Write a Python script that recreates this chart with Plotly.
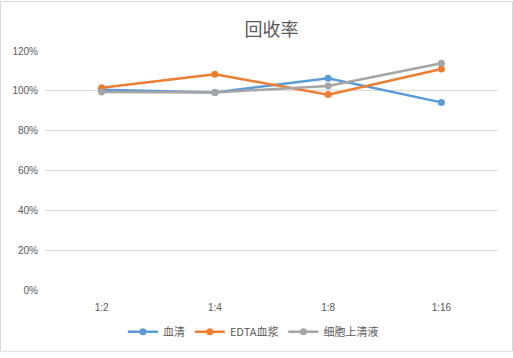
import plotly.graph_objects as go

categories = ["1:2", "1:4", "1:8", "1:16"]
serum = [1.005, 0.992, 1.063, 0.942]
edta_plasma = [1.015, 1.083, 0.981, 1.110]
cell_supernatant = [0.994, 0.992, 1.024, 1.139]
series_names = ["血清", "EDTA血浆", "细胞上清液"]
series_colors = ["#5B9BD5", "#ED7D31", "#A5A5A5"]
y_ticks = [0, 0.2, 0.4, 0.6, 0.8, 1.0, 1.2]

W, H = 513, 358
L, R, T, B = 45, 15, 51, 63

fig = go.Figure()
for name, vals, col in zip(series_names, [serum, edta_plasma, cell_supernatant], series_colors):
    fig.add_trace(go.Scatter(
        x=categories, y=vals, name=name, mode="lines+markers",
        line=dict(color=col, width=2.5),
        marker=dict(color=col, size=7),
    ))

pw = W - L - R
ph = H - T - B
fig.add_shape(type="rect", xref="paper", yref="paper",
              x0=(0.5 - L) / pw, x1=(W - 0.5 - L) / pw,
              y0=-(B - 0.5) / ph, y1=1 + (T - 0.5) / ph,
              line=dict(color="#D9D9D9", width=1), layer="below")

fig.update_layout(
    width=W, height=H,
    margin=dict(l=L, r=R, t=T, b=B),
    paper_bgcolor="white", plot_bgcolor="white",
    font=dict(family="Liberation Sans, Noto Sans CJK SC", size=10, color="#595959"),
    title=dict(text="回收率", x=(L + pw / 2) / W, xanchor="center",
               y=1 - 30 / H, yanchor="middle",
               font=dict(family="Noto Sans CJK SC", size=18, color="#595959")),
    xaxis=dict(type="category", range=[-0.5, 3.5], automargin=False,
               showgrid=False, showline=False, zeroline=False, ticks="",
               ticklabelstandoff=10,
               tickfont=dict(size=10, color="#595959")),
    yaxis=dict(range=[0, 1.2], tickvals=y_ticks, tickformat=".0%", automargin=False,
               showgrid=True, gridcolor="#D9D9D9", gridwidth=1,
               zeroline=False, showline=False, ticks="", ticklen=0,
               ticklabelstandoff=6,
               tickfont=dict(size=10, color="#595959")),
    legend=dict(orientation="h", x=0.46, xanchor="center", y=-0.175, yanchor="middle",
                font=dict(family="Noto Sans CJK SC, Liberation Sans", size=11, color="#595959"),
                itemwidth=30, tracegroupgap=0),
    showlegend=True,
)
fig.write_html("out.html", config={"displayModeBar": False},
               post_script="document.body.style.margin='0';document.body.style.overflow='hidden';")
